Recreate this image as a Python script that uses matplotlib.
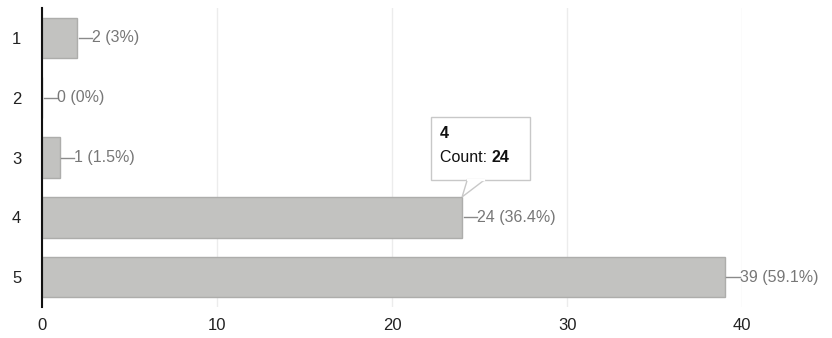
import matplotlib.pyplot as plt
from matplotlib.patches import Rectangle, Polygon

plt.rcParams['font.family'] = ['Liberation Sans', 'DejaVu Sans']

categories = ['1', '2', '3', '4', '5']
counts = [2, 0, 1, 24, 39]
percents = ['3%', '0%', '1.5%', '36.4%', '59.1%']
x_ticks = [0, 10, 20, 30, 40]

fig = plt.figure(figsize=(8.32, 3.38), dpi=100)
ax = fig.add_axes([0.0505, 0.092, 0.8415, 0.884])

ypos = list(range(1, len(categories) + 1))
ax.barh(ypos, counts, height=0.68, color='#c2c2c0', edgecolor='#adadab', linewidth=1, zorder=2)

for y, c, p in zip(ypos, counts, percents):
    ax.plot([c + 0.1, c + 0.85], [y, y], color='#8a8a8a', lw=1, zorder=3)
    ax.text(c + 0.85, y, f'{c} ({p})', va='center', ha='left', fontsize=11.5, color='#777777')

ax.set_xlim(0, 40)
ax.set_ylim(5.5, 0.5)
ax.set_yticks(ypos)
ax.set_yticklabels(categories, fontsize=12, color='#222222')
ax.set_xticks(x_ticks)
ax.set_xticklabels([str(t) for t in x_ticks], fontsize=12, color='#222222')
ax.tick_params(length=0)
ax.tick_params(axis='x', pad=8)
ax.tick_params(axis='y', pad=15)
ax.grid(axis='x', color='#ececec', linewidth=1, zorder=0)
for s in ['top', 'right', 'bottom']:
    ax.spines[s].set_visible(False)
ax.spines['left'].set_color('#111111')
ax.spines['left'].set_linewidth(1.5)
ax.spines['left'].set_zorder(3)

# tooltip for category 4
tip_x, tip_y = counts[3], ypos[3] - 0.34
ax.add_patch(Rectangle((22.2, 2.33), 5.7, 1.04, facecolor='white', edgecolor='#c8c8c8',
                       linewidth=1, zorder=4))
ax.add_patch(Polygon([(24.3, 3.37), (25.3, 3.37), (tip_x, tip_y)], closed=True,
                     facecolor='white', edgecolor='#c8c8c8', linewidth=1, zorder=4))
ax.plot([24.33, 25.27], [3.37, 3.37], color='white', lw=1.6, zorder=5)
ax.text(22.75, 2.6, '4', fontsize=11.5, fontweight='bold', color='#111111', va='center', zorder=6)
t = ax.text(22.75, 3.0, 'Count: ', fontsize=11.5, color='#111111', va='center', zorder=6)
ax.annotate('24', xycoords=t, xy=(1, 0.5), va='center', fontsize=11.5, fontweight='bold',
            color='#111111', zorder=6)

fig.savefig('out.png', dpi=100)
